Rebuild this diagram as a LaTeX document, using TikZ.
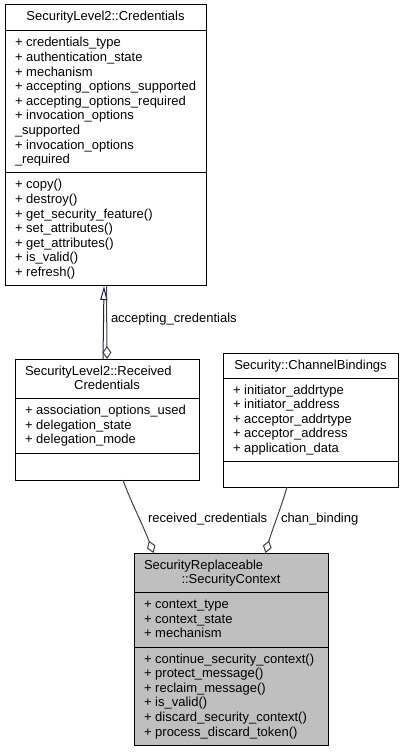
\documentclass[tikz,border=0pt]{standalone}
\usepackage{fontspec}
\setmainfont{Liberation Sans}
\usetikzlibrary{arrows.meta,fit}
\definecolor{grey25}{HTML}{404040}
\definecolor{midblue}{HTML}{191970}
\definecolor{scfill}{HTML}{BFBFBF}
\begin{document}
\begin{tikzpicture}[x=0.75pt,y=-0.75pt,
  font=\fontsize{9.75}{11}\selectfont,
  box/.style={draw=black, line width=0.75pt, inner sep=0pt, outer sep=0pt},
  txt/.style={anchor=base west, inner sep=0pt, outer sep=0pt},
  ttl/.style={anchor=base, inner sep=0pt, outer sep=0pt},
  lbl/.style={anchor=base west, inner sep=0pt, outer sep=0pt},
  sepline/.style={draw=black, line width=0.75pt},
  usage/.style={draw=grey25, line width=0.75pt, -{Diamond[open,length=9.75pt,width=6.75pt]}},
  inherit/.style={draw=midblue, line width=0.75pt, -{Triangle[open,length=10.5pt,width=5.25pt]}}]
\useasboundingbox (0,0) rectangle (404,752);

% ---------- SecurityLevel2::Credentials ----------
\node[box, fit={(5,5) (206,285.6)}] (cred) {};
\draw[sepline] (5,31) -- (206,31);
\draw[sepline] (5,172.9) -- (206,172.9);
\node[ttl] (credt) at (105.5,21) {SecurityLevel2::Credentials};
\foreach \t [count=\i] in {+ credentials\_type,+ authentication\_state,+ mechanism,+ accepting\_options\_supported,+ accepting\_options\_required,+ invocation\_options,\_supported,+ invocation\_options,\_required}
  \node[txt] (ca\i) at (15,{47+14.6*(\i-1)}) {\ignorespaces\t};
\foreach \t [count=\i] in {+ copy(),+ destroy(),+ get\_security\_feature(),+ set\_attributes(),+ get\_attributes(),+ is\_valid(),+ refresh()}
  \node[txt] (cm\i) at (15,{188.9+14.6*(\i-1)}) {\ignorespaces\t};

% ---------- SecurityLevel2::ReceivedCredentials ----------
\node[box, fit={(15,359) (199,480)}] (rec) {};
\draw[sepline] (15,398.7) -- (199,398.7);
\draw[sepline] (15,453) -- (199,453);
\node[txt] (rect1) at (25,375) {SecurityLevel2::Received};
\node[ttl] (rect2) at (107,389.6) {Credentials};
\foreach \t [count=\i] in {+ association\_options\_used,+ delegation\_state,+ delegation\_mode}
  \node[txt] (ra\i) at (25,{414.7+14.6*(\i-1)}) {\ignorespaces\t};

% ---------- Security::ChannelBindings ----------
\node[box, fit={(223,353) (398,487)}] (cb) {};
\draw[sepline] (223,378.1) -- (398,378.1);
\draw[sepline] (223,461.6) -- (398,461.6);
\node[ttl] (cbt) at (310.5,369) {Security::ChannelBindings};
\foreach \t [count=\i] in {+ initiator\_addrtype,+ initiator\_address,+ acceptor\_addrtype,+ acceptor\_address,+ application\_data}
  \node[txt] (ba\i) at (233,{394.1+14.6*(\i-1)}) {\ignorespaces\t};

% ---------- SecurityReplaceable::SecurityContext ----------
\node[box, fill=scfill, fit={(134,553) (328,745.1)}] (sc) {};
\draw[sepline] (134,592.7) -- (328,592.7);
\draw[sepline] (134,647) -- (328,647);
\node[txt] (sct1) at (144,569) {SecurityReplaceable};
\node[ttl] (sct2) at (231,583.6) {::SecurityContext};
\foreach \t [count=\i] in {+ context\_type,+ context\_state,+ mechanism}
  \node[txt] (sa\i) at (144,{608.7+14.6*(\i-1)}) {\ignorespaces\t};
\foreach \t [count=\i] in {+ continue\_security\_context(),+ protect\_message(),+ reclaim\_message(),+ is\_valid(),+ discard\_security\_context(),+ process\_discard\_token()}
  \node[txt] (sm\i) at (144,{663+14.6*(\i-1)}) {\ignorespaces\t};

% ---------- connector end points on the box borders ----------
\coordinate (inhS) at (103,359);
\coordinate (inhE) at (104,286);
\coordinate (accS) at (106.5,286);
\coordinate (accE) at (107,359);
\coordinate (rcS) at (123,480);
\coordinate (rcE) at (153.5,553);
\coordinate (chS) at (287,487);
\coordinate (chE) at (265.5,553);

% ---------- connectors ----------
\draw[inherit] (inhS) -- (inhE);
\draw[usage] (accS) -- (accE);
\node[lbl] (accl) at (111,322) {accepting\_credentials};
\draw[usage] (rcS) .. controls (130,500) and (143,525) .. (rcE);
\node[lbl] (rcl) at (148,522) {received\_credentials};
\draw[usage] (chS) .. controls (282,505) and (272,530) .. (chE);
\node[lbl] (chl) at (281,522) {chan\_binding};
\end{tikzpicture}
\end{document}
